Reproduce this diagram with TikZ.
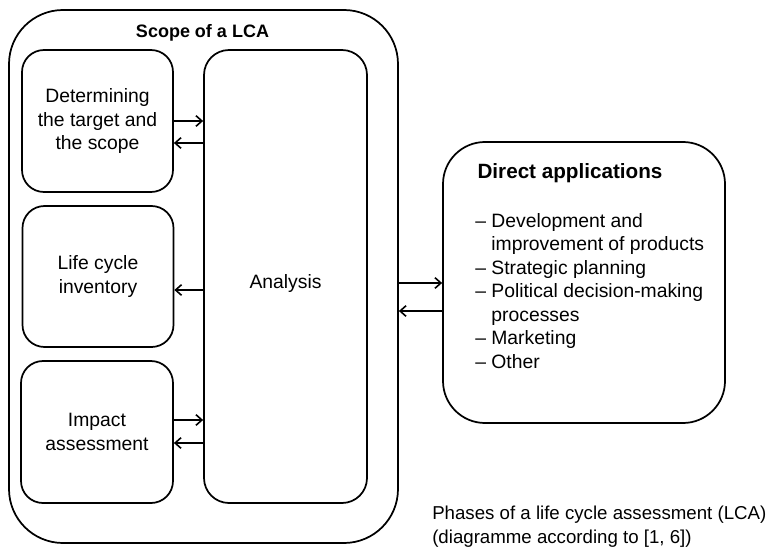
\documentclass[tikz,border=0pt]{standalone}
\usepackage{fontspec}
\setmainfont{Liberation Sans}
\usetikzlibrary{arrows.meta}
\begin{document}
\begin{tikzpicture}[x=0.75pt,y=-0.75pt,
  every node/.style={font=\fontsize{14.5}{17.6}\selectfont},
  heading/.style={font=\fontsize{13.5}{17.6}\selectfont\bfseries},
  box/.style={draw,line width=1.3pt,inner sep=0pt},
  phase/.style={box,rounded corners=22*0.75pt,minimum width=151*0.75pt,
    minimum height=142*0.75pt,align=center},
  arr/.style={line width=1.3pt,-{Straight Barb[length=4.5pt,width=8pt,line width=1.2pt]}}]
  \useasboundingbox (0,0) rectangle (767,546);
  % outer frame of the LCA
  \node[box,rounded corners=54*0.75pt,minimum width=389*0.75pt,minimum height=533*0.75pt]
    (outer) at (203.5,276.5) {};
  \node[heading] (title) at (202.5,33) {Scope of a LCA};
  % phases
  \node[phase] (det) at (97.5,121) {Determining\\the target and\\the scope};
  \node[phase,minimum height=141*0.75pt] (inv) at (98,276.5) {Life cycle\\inventory};
  \node[phase,minimum width=152*0.75pt] (imp) at (97,432) {Impact\\assessment};
  \node[box,rounded corners=25*0.75pt,minimum width=163*0.75pt,minimum height=453*0.75pt]
    (ana) at (285.5,276.5) {};
  \node (anatext) at (285.5,283) {Analysis};
  % direct applications
  \node[box,rounded corners=42*0.75pt,minimum width=282*0.75pt,minimum height=281*0.75pt]
    (da) at (584,282.5) {};
  \node[heading,font=\fontsize{15.5}{17.6}\selectfont\bfseries] (datitle) at (570,173) {Direct applications};
  \node[anchor=north west,align=left,inner sep=0pt] (dalist) at (475,213)
    {\textendash{} Development and\\
     \phantom{\textendash{} }improvement of products\\
     \textendash{} Strategic planning\\
     \textendash{} Political decision-making\\
     \phantom{\textendash{} }processes\\
     \textendash{} Marketing\\
     \textendash{} Other};
  % caption
  \node[anchor=north west,align=left,inner sep=0pt,
    font=\fontsize{14}{17.5}\selectfont] (caption) at (432,506)
    {Phases of a life cycle assessment (LCA)\\(diagramme according to [1, 6])};
  % connectors
  \draw[arr] (det.east |- 0,121) -- (ana.west |- 0,121);
  \draw[arr] (ana.west |- 0,143) -- (det.east |- 0,143);
  \draw[arr] (ana.west |- 0,290) -- (inv.east |- 0,290);
  \draw[arr] (imp.east |- 0,420) -- (ana.west |- 0,420);
  \draw[arr] (ana.west |- 0,443) -- (imp.east |- 0,443);
  \draw[arr] (outer.east |- 0,283) -- (da.west |- 0,283);
  \draw[arr] (da.west |- 0,311) -- (outer.east |- 0,311);
\end{tikzpicture}
\end{document}
